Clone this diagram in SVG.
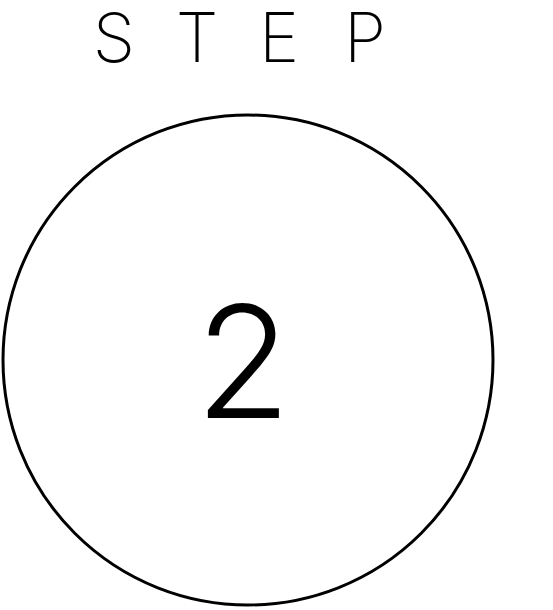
<svg xmlns="http://www.w3.org/2000/svg" width="553" height="610" viewBox="0 0 553 610">
<style>
.t{font-family:"Inter","Roboto","Liberation Sans",sans-serif;font-weight:200;fill:#000;text-anchor:middle}
.n{font-weight:300}
.c{fill:none;stroke:#000;stroke-width:3}
</style>
<rect width="553" height="610" fill="#fff"/>
<g id="title">
<text class="t" x="114" y="62" font-size="68">S</text>
<text class="t" x="197" y="62" font-size="68">T</text>
<text class="t" x="279" y="62" font-size="68">E</text>
<text class="t" x="365" y="62" font-size="68">P</text>
</g>
<g id="step2">
<circle class="c" cx="248" cy="360" r="245"/>
<text class="t n" x="243" y="418" font-size="156">2</text>
</g>
<g id="connectors"/>
</svg>
